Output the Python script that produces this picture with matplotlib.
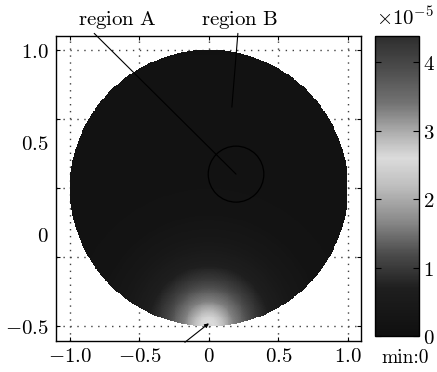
import numpy as np
import matplotlib
matplotlib.use('Agg')
import matplotlib.pyplot as plt
from matplotlib.colors import LinearSegmentedColormap
from matplotlib.patches import Ellipse
from matplotlib.ticker import FixedLocator, FixedFormatter

plt.rcParams['mathtext.fontset'] = 'cm'
plt.rcParams['font.size'] = 15

#%% DATA (values in units of 1e-5)
# radial profile of the bright spot at the bottom of the aperture
prof_r = [0.0, 0.06, 0.18, 0.32, 0.45, 0.6, 0.8, 1.0, 2.0]
prof_v = [2.7, 2.5, 1.6, 1.05, 0.65, 0.38, 0.2, 0.15, 0.1]
vmax = 4.38

# gray levels of the colour bar (value, gray)
cb_vals = [0.0, 0.7, 1.2, 1.7, 2.2, 2.6, 2.9, 3.4, 3.9, 4.38]
cb_gray = [0.06, 0.12, 0.30, 0.55, 0.75, 0.86, 0.72, 0.45, 0.30, 0.18]

x_ticks = [-1.0, -0.5, 0, 0.5, 1.0]
x_labels = ['$-1.0$', '$-0.5$', '$0$', '$0.5$', '$1.0$']
y_grid = [-0.5, -0.125, 0.25, 0.625, 1.0]
y_ticks = [-0.5, 0, 0.5, 1.0]
y_labels = ['$-0.5$', '$0$', '$0.5$', '$1.0$']
cb_ticks = [0, 1, 2, 3, 4]

#%% FIELD
x = np.linspace(-1, 1, 300)
y = np.linspace(-0.5, 1.0, 300)
X, Y = np.meshgrid(x, y)
inside = X**2 + ((Y - 0.25) / 0.75)**2 <= 1.0
R = np.sqrt(X**2 + (1.32 * (Y + 0.5))**2)
Z = np.interp(R, prof_r, prof_v)
Z = np.ma.masked_where(~inside, Z)

cmap = LinearSegmentedColormap.from_list(
    'gb', [(v / vmax, (g, g, g)) for v, g in zip(cb_vals, cb_gray)])

#%% PLOT
fig = plt.figure(figsize=(4.37, 3.72), dpi=100)
ax = fig.add_axes([56/437, 31/372, 305/437, 305/372])
cax = fig.add_axes([375/437, 36/372, 44/437, 300/372])

pc = ax.pcolormesh(X, Y, Z, cmap=cmap, vmin=0, vmax=vmax, shading='auto')

ax.add_patch(Ellipse((0.195, 0.326), 0.40, 0.304, fill=False, ec='k', lw=0.9))

ax.set_xlim(-1.10, 1.094)
ax.set_ylim(-0.58, 1.076)
ax.set_axisbelow(True)

ax.set_xticks(x_ticks)
ax.set_xticklabels(x_labels)
ax.yaxis.remove_overlapping_locs = False
ax.yaxis.set_major_locator(FixedLocator(y_grid))
ax.yaxis.set_major_formatter(FixedFormatter([''] * len(y_grid)))
ax.yaxis.set_minor_locator(FixedLocator(y_ticks))
ax.yaxis.set_minor_formatter(FixedFormatter(y_labels))
ax.tick_params(which='major', direction='in', length=3, top=True, right=True, labelsize=15)
ax.tick_params(which='minor', axis='y', length=0, labelsize=15, pad=5)
ax.grid(True, linestyle=(0, (1, 4)), color='0.25', linewidth=1)
for s in ax.spines.values():
    s.set_linewidth(1.0)

# annotations
ax.annotate(r'$\mathrm{region\ A}$', xy=(0.195, 0.326), xytext=(-0.66, 1.165),
            ha='center', va='center', annotation_clip=False, fontsize=15,
            arrowprops=dict(arrowstyle='-', lw=0.8, color='k', relpos=(0.13, 0.15),
                            shrinkA=0, shrinkB=0))
ax.annotate(r'$\mathrm{region\ B}$', xy=(0.165, 0.69), xytext=(0.223, 1.165),
            ha='center', va='center', annotation_clip=False, fontsize=15,
            arrowprops=dict(arrowstyle='-', lw=0.8, color='k', relpos=(0.48, 0.15),
                            shrinkA=0, shrinkB=0))
ax.annotate('', xy=(0, -0.484), xytext=(-0.173, -0.587), annotation_clip=False,
            arrowprops=dict(arrowstyle='-|>', lw=0.8, color='k', mutation_scale=6,
                            shrinkA=0, shrinkB=0))

# colour bar
cb = fig.colorbar(pc, cax=cax, ticks=cb_ticks)
cb.ax.set_yticklabels(['$%d$' % t for t in cb_ticks])
cb.ax.tick_params(direction='in', length=4, left=True, right=True, labelsize=15, pad=3)
cb.outline.set_linewidth(1.0)
fig.text(376/437, 1 - 18/372, r'$\times 10^{-5}$', fontsize=15, ha='left', va='center')
fig.text(405/437, 1 - 358/372, 'min:0', fontsize=14, fontfamily='cmr10',
         ha='center', va='center')

plt.savefig('out.png', dpi=100)
